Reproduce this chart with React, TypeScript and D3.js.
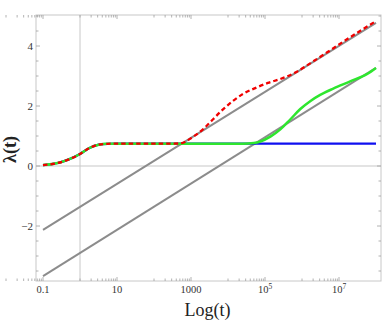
import * as d3 from 'd3'

const W = 382
const H = 327

// frame box in px
const frame = { left: 36, right: 381, top: 15, bottom: 281 }

// early part shared by all three curves (they overlap until the plateau)
const sharedT = [0.1, 0.25, 0.5, 1, 1.8, 3.2, 5.6, 10, 100]
const sharedL = [0.03, 0.1, 0.22, 0.4, 0.6, 0.71, 0.74, 0.745, 0.745]

// red dashed curve, after the plateau
const redT = [500, 1100, 2100, 3900, 7200, 1.4e4, 2.6e4, 6e4, 1.2e5, 2.6e5, 7.2e5, 1.7e6, 4.8e6, 1e7, 3e7, 1e8]
const redL = [0.75, 0.96, 1.22, 1.55, 1.88, 2.18, 2.41, 2.62, 2.77, 2.9, 3.14, 3.43, 3.79, 4.05, 4.43, 4.83]

// green curve, after the plateau
const greenT = [2.5e4, 5e4, 7.2e4, 1.4e5, 2.6e5, 4.8e5, 9e5, 1.7e6, 3.1e6, 7e6, 2e7, 5.8e7, 1e8]
const greenL = [0.745, 0.77, 0.81, 0.98, 1.22, 1.55, 1.9, 2.17, 2.37, 2.58, 2.82, 3.07, 3.27]

// blue curve stays on the plateau
const blueT = [1e8]
const blueL = [0.745]

// gray asymptotes (straight in log t)
const grayUpT = [0.1, 1e8]
const grayUpL = [-2.13, 4.77]
const grayLoT = [0.1, 1e8]
const grayLoL = [-3.67, 3.27]

const xMajor = [0.1, 10, 1000, 1e5, 1e7]
const xLabels = [
  { base: '0.1', sup: '' },
  { base: '10', sup: '' },
  { base: '1000', sup: '' },
  { base: '10', sup: '5' },
  { base: '10', sup: '7' },
]
const yMajor = [-2, 0, 2, 4]
const yLabels = ['\u22122', '0', '2', '4']

const FONT = "'Liberation Serif', 'DejaVu Serif', serif"

function App() {
  const x = d3.scaleLog().domain([0.1, 1e8]).range([43, 376])
  const y = d3.scaleLinear().domain([-2, 4]).range([226, 46])

  const line = d3.line<[number, number]>()
    .x(d => x(d[0]))
    .y(d => y(d[1]))
    .curve(d3.curveMonotoneX)

  const pts = (ts: number[], ls: number[]) => ts.map((t, i) => [t, ls[i]] as [number, number])
  const shared = pts(sharedT, sharedL)
  const red = shared.concat(pts(redT, redL))
  const green = shared.concat(pts(greenT, greenL))
  const blue = shared.concat(pts(blueT, blueL))

  // minor log ticks in the decade under each major tick
  const xMinor: number[] = []
  xMajor.forEach(m => d3.range(1, 10).forEach(k => xMinor.push(k * m / 10)))
  const yMinor = d3.range(-3.5, 5.01, 0.5).filter(v => !yMajor.includes(v))

  const tickColor = '#a0a0a0'

  return (
    <svg width={W} height={H} style={{ position: 'absolute', left: 0, top: 0, background: '#fff' }}>
      {/* grid lines */}
      <line x1={frame.left} x2={frame.right} y1={y(0)} y2={y(0)} stroke="#e3e3e3" strokeWidth={1.8} />
      <line x1={x(1)} x2={x(1)} y1={frame.top} y2={frame.bottom} stroke="#c8c8c8" strokeWidth={1} />

      {/* frame */}
      <rect x={frame.left} y={frame.top} width={frame.right - frame.left} height={frame.bottom - frame.top}
        fill="none" stroke="#c8c8c8" strokeWidth={1} />

      {/* x ticks, bottom and top */}
      {xMinor.map((t, i) => (
        <g key={'xm' + i} stroke={tickColor} strokeWidth={0.8}>
          <line x1={x(t)} x2={x(t)} y1={frame.bottom} y2={frame.bottom - 2.5} />
          <line x1={x(t)} x2={x(t)} y1={frame.top} y2={frame.top + 2.5} />
        </g>
      ))}
      {xMajor.map((t, i) => (
        <g key={'xM' + i} stroke={tickColor} strokeWidth={0.8}>
          <line x1={x(t)} x2={x(t)} y1={frame.bottom} y2={frame.bottom - 4} />
          <line x1={x(t)} x2={x(t)} y1={frame.top} y2={frame.top + 4} />
        </g>
      ))}

      {/* y ticks, left and right */}
      {yMinor.map((v, i) => (
        <g key={'ym' + i} stroke={tickColor} strokeWidth={0.8}>
          <line x1={frame.left} x2={frame.left + 2.5} y1={y(v)} y2={y(v)} />
          <line x1={frame.right} x2={frame.right - 2.5} y1={y(v)} y2={y(v)} />
        </g>
      ))}
      {yMajor.map((v, i) => (
        <g key={'yM' + i} stroke={tickColor} strokeWidth={0.8}>
          <line x1={frame.left} x2={frame.left + 4} y1={y(v)} y2={y(v)} />
          <line x1={frame.right} x2={frame.right - 4} y1={y(v)} y2={y(v)} />
        </g>
      ))}

      {/* curves */}
      <path d={line(pts(grayUpT, grayUpL)) || ''} fill="none" stroke="#8c8c8c" strokeWidth={2} />
      <path d={line(pts(grayLoT, grayLoL)) || ''} fill="none" stroke="#8c8c8c" strokeWidth={2} />
      <path d={line(blue) || ''} fill="none" stroke="#1010f0" strokeWidth={2.3} />
      <path d={line(green) || ''} fill="none" stroke="#2ee62e" strokeWidth={2.5} />
      <path d={line(red) || ''} fill="none" stroke="#f00000" strokeWidth={2.3} strokeDasharray="4.5 3" />

      {/* tick labels */}
      {xLabels.map((l, i) => (
        <text key={'xl' + i} x={x(xMajor[i])} y={293} textAnchor="middle" fontFamily={FONT} fontSize={10.5} fill="#333">
          <tspan>{l.base}</tspan>
          {l.sup && <tspan dy={-4.5} fontSize={7.5}>{l.sup}</tspan>}
        </text>
      ))}
      {yLabels.map((l, i) => (
        <text key={'yl' + i} x={33} y={y(yMajor[i]) + 4} textAnchor="end" fontFamily={FONT} fontSize={11} fill="#333">{l}</text>
      ))}

      {/* axis titles */}
      <text x={207.5} y={316} textAnchor="middle" fontFamily={FONT} fontSize={18} fill="#222">Log(t)</text>
      <text transform={`translate(16,149.5) rotate(-90)`} textAnchor="middle" fontFamily={FONT} fontSize={18} fontWeight="bold" fill="#222">λ(t)</text>
    </svg>
  )
}

export default App
